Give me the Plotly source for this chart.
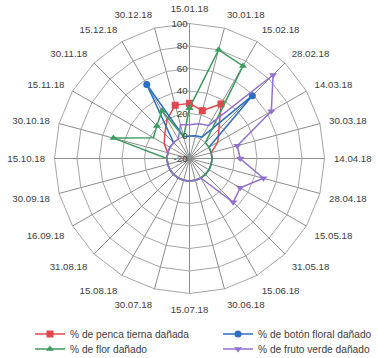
import plotly.graph_objects as go

categories = ["15.01.18", "30.01.18", "15.02.18", "28.02.18", "14.03.18", "30.03.18",
              "14.04.18", "28.04.18", "15.05.18", "31.05.18", "15.06.18", "30.06.18",
              "15.07.18", "30.07.18", "15.08.18", "31.08.18", "16.09.18", "30.09.18",
              "15.10.18", "30.10.18", "15.11.18", "30.11.18", "15.12.18", "30.12.18"]

penca = [29, 24, 36, 17, 9, 0, 0, 0, 0, 0, 0, 0, 0, 0, 0, 0, 0, 0, 0, 0, 6, 11, 20, 29]
boton = [0, 1, 2, 59, 0, 0, 0, 0, 0, 0, 0, 0, 0, 0, 0, 0, 0, 0, 0, 0, 0, 0, 56, 0]
flor = [25, 80, 75, 0, 0, 0, 0, 0, 0, 0, 0, 0, 0, 0, 0, 0, 0, 0, 0, 50, 17, 21, 29, 0]
fruto = [10, 12, 14, 85, 64, 24, 25, 48, 32, 35, 0, 0, 0, 0, 0, 0, 0, 0, 0, 0, 0, 0, 0, 11]

radial_ticks = [-20, 0, 20, 40, 60, 80, 100]
radial_ticktext = ["-20", "0", "20", "40", "60", "80", "100"]

series = [
    ("% de penca tierna dañada", penca, "#E0484E", "square", "legend"),
    ("% de botón floral dañado", boton, "#2B6FC0", "circle", "legend2"),
    ("% de flor dañado", flor, "#3D9A5F", "triangle-up", "legend3"),
    ("% de fruto verde dañado", fruto, "#9370D0", "triangle-down", "legend4"),
]

fig = go.Figure()
for name, vals, color, sym, lg in series:
    fig.add_trace(go.Scatterpolar(
        r=vals + vals[:1], theta=categories + categories[:1],
        mode="lines+markers", name=name, legend=lg,
        line=dict(color=color, width=1.5),
        marker=dict(symbol=sym, size=7, color=color),
    ))

W, H = 378, 358
cx, cy, R = 189.5, 158.5, 135
font = dict(family="Liberation Sans, Arial, sans-serif", color="#404040")

def leg(xpx, ypx):
    return dict(x=xpx / W, y=1 - ypx / H,
                xanchor="left", yanchor="middle",
                font=dict(size=10.2, **font), bgcolor="rgba(0,0,0,0)",
                itemwidth=30, tracegroupgap=0)

fig.update_layout(
    width=W, height=H,
    margin=dict(l=0, r=0, t=0, b=0, autoexpand=False),
    paper_bgcolor="white",
    font=dict(size=9.7, **font),
    polar=dict(
        domain=dict(x=[(cx - R) / W, (cx + R) / W], y=[(H - cy - R) / H, (H - cy + R) / H]),
        bgcolor="white",
        gridshape="linear",
        angularaxis=dict(
            type="category", categoryarray=categories, direction="clockwise", rotation=90,
            showline=True, linecolor="#A6A6A6", linewidth=1,
            gridcolor="#8C8C8C", gridwidth=1,
            ticks="outside", ticklen=7, tickcolor="rgba(0,0,0,0)",
            tickfont=dict(size=9.7, **font),
        ),
        radialaxis=dict(
            range=[-20, 100], angle=90, side="counterclockwise", tickangle=90,
            tickmode="array", tickvals=radial_ticks, ticktext=radial_ticktext,
            showline=False, ticks="", gridcolor="#A6A6A6", gridwidth=1,
            tickfont=dict(size=9.7, **font), layer="above traces",
        ),
    ),
    showlegend=True,
    legend=leg(30, 334),
    legend2=leg(218, 334),
    legend3=leg(30, 349),
    legend4=leg(218, 349),
)

fig.write_html("out.html", config={"displayModeBar": False},
               post_script="document.body.style.margin='0';")
